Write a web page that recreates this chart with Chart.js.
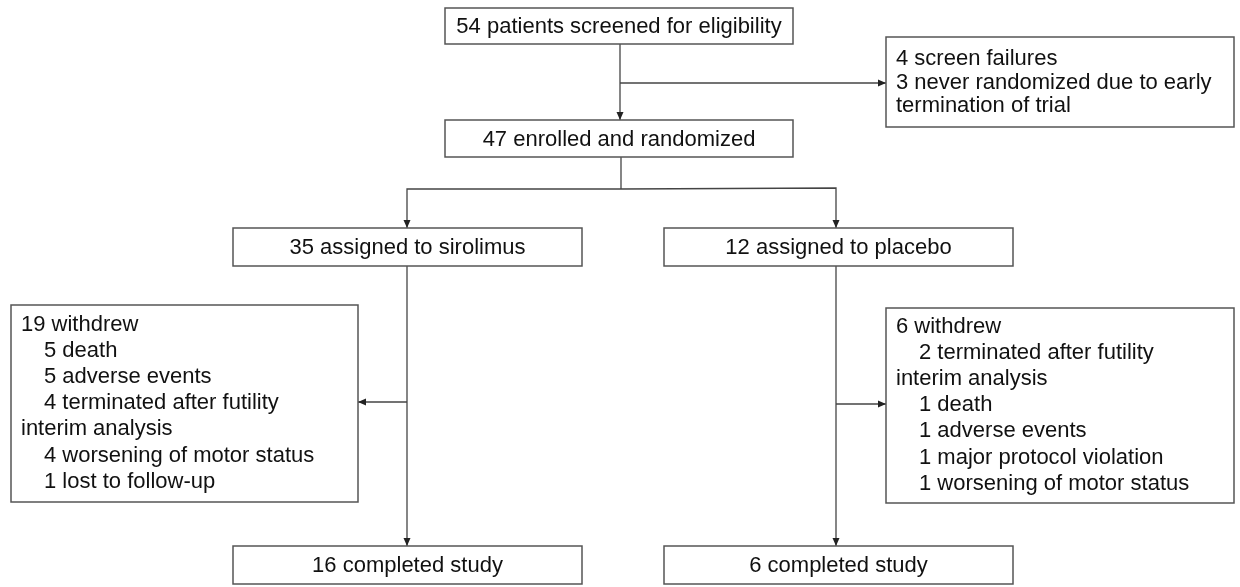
<!DOCTYPE html>
<html>
<head>
<meta charset="utf-8">
<script src="https://cdn.jsdelivr.net/npm/chart.js@4/dist/chart.umd.min.js"></script>
<style>
  html, body { margin: 0; padding: 0; background: #fff; }
  #wrap { width: 1240px; height: 587px; }
</style>
</head>
<body>
<div id="wrap"><canvas id="flow" width="1240" height="587"></canvas></div>
<script>
// flow counts and texts (leading spaces = indented sub-item)
const screened = ['54 patients screened for eligibility'];
const excluded = ['4 screen failures', '3 never randomized due to early', 'termination of trial'];
const randomized = ['47 enrolled and randomized'];
const arms = ['35 assigned to sirolimus', '12 assigned to placebo'];
const withdrewSirolimus = ['19 withdrew', '   5 death', '   5 adverse events', '   4 terminated after futility',
  'interim analysis', '   4 worsening of motor status', '   1 lost to follow-up'];
const withdrewPlacebo = ['6 withdrew', '   2 terminated after futility', 'interim analysis', '   1 death',
  '   1 adverse events', '   1 major protocol violation', '   1 worsening of motor status'];
const completed = ['16 completed study', '6 completed study'];

// layout (diagram units = px of the 1240x587 frame)
const boxes = [
  { lines: screened, x: 445, y: 8, w: 348, h: 36, center: true },
  { lines: excluded, x: 886, y: 37, w: 348, h: 90, top: 59, step: 23.5 },
  { lines: randomized, x: 445, y: 120, w: 348, h: 37, center: true },
  { lines: [arms[0]], x: 233, y: 228, w: 349, h: 38, center: true },
  { lines: [arms[1]], x: 664, y: 228, w: 349, h: 38, center: true },
  { lines: withdrewSirolimus, x: 11, y: 305, w: 347, h: 197, top: 325, step: 26.1 },
  { lines: withdrewPlacebo, x: 886, y: 308, w: 348, h: 195, top: 327, step: 26.1 },
  { lines: [completed[0]], x: 233, y: 546, w: 349, h: 38, center: true },
  { lines: [completed[1]], x: 664, y: 546, w: 349, h: 38, center: true }
];
const links = [
  { pts: [[620, 44], [620, 120]], arrow: true },
  { pts: [[620, 83], [886, 83]], arrow: true },
  { pts: [[621, 157], [621, 189]], arrow: false },
  { pts: [[621, 189], [407, 189], [407, 228]], arrow: true },
  { pts: [[621, 189], [836, 188], [836, 228]], arrow: true },
  { pts: [[407, 266], [407, 546]], arrow: true },
  { pts: [[407, 402], [358, 402]], arrow: true },
  { pts: [[836, 266], [836, 546]], arrow: true },
  { pts: [[836, 404], [886, 404]], arrow: true }
];

const flowPlugin = {
  id: 'flow',
  afterDraw(chart) {
    const ctx = chart.ctx;
    const X = v => chart.scales.x.getPixelForValue(v);
    const Y = v => chart.scales.y.getPixelForValue(v);
    ctx.save();
    // connectors
    ctx.strokeStyle = '#444';
    ctx.fillStyle = '#222';
    ctx.lineWidth = 1.3;
    links.forEach(l => {
      ctx.beginPath();
      l.pts.forEach((p, i) => i ? ctx.lineTo(X(p[0]), Y(p[1])) : ctx.moveTo(X(p[0]), Y(p[1])));
      ctx.stroke();
      if (l.arrow) {
        const a = l.pts[l.pts.length - 2], b = l.pts[l.pts.length - 1];
        const ang = Math.atan2(Y(b[1]) - Y(a[1]), X(b[0]) - X(a[0]));
        const tx = X(b[0]), ty = Y(b[1]);
        ctx.beginPath();
        ctx.moveTo(tx, ty);
        ctx.lineTo(tx - 8 * Math.cos(ang) + 3.5 * Math.sin(ang), ty - 8 * Math.sin(ang) - 3.5 * Math.cos(ang));
        ctx.lineTo(tx - 8 * Math.cos(ang) - 3.5 * Math.sin(ang), ty - 8 * Math.sin(ang) + 3.5 * Math.cos(ang));
        ctx.closePath();
        ctx.fill();
      }
    });
    // boxes
    ctx.font = '22px "Liberation Sans", Arial, sans-serif';
    ctx.textBaseline = 'middle';
    boxes.forEach(b => {
      const x0 = X(b.x), y0 = Y(b.y), x1 = X(b.x + b.w), y1 = Y(b.y + b.h);
      ctx.fillStyle = '#fff';
      ctx.fillRect(x0, y0, x1 - x0, y1 - y0);
      ctx.strokeStyle = '#555';
      ctx.lineWidth = 1.5;
      ctx.strokeRect(x0, y0, x1 - x0, y1 - y0);
      ctx.fillStyle = '#111';
      if (b.center) {
        ctx.textAlign = 'center';
        ctx.fillText(b.lines[0], (x0 + x1) / 2, (y0 + y1) / 2 + 1);
      } else {
        ctx.textAlign = 'left';
        b.lines.forEach((t, i) => {
          const indent = t.startsWith(' ') ? 23 : 0;
          ctx.fillText(t.trim(), X(b.x + 10 + indent), Y(b.top + i * b.step));
        });
      }
    });
    ctx.restore();
  }
};

new Chart(document.getElementById('flow'), {
  type: 'scatter',
  data: { datasets: [{ data: [] }] },
  options: {
    responsive: false,
    animation: false,
    layout: { padding: 0 },
    plugins: { legend: { display: false }, tooltip: { enabled: false } },
    scales: {
      x: { type: 'linear', min: 0, max: 1240, display: false },
      y: { type: 'linear', min: 0, max: 587, reverse: true, display: false }
    }
  },
  plugins: [flowPlugin]
});
</script>
</body>
</html>
